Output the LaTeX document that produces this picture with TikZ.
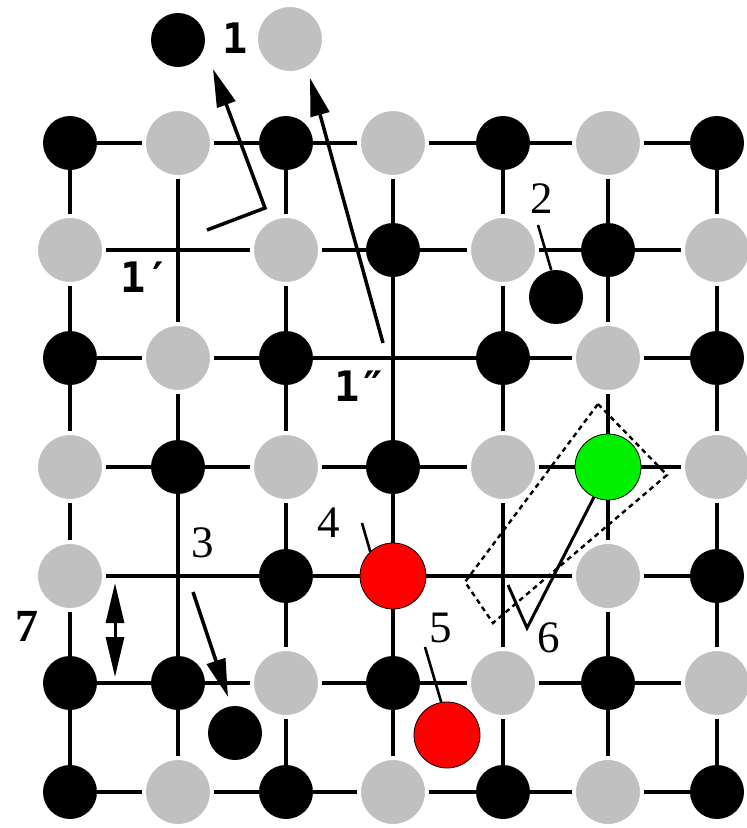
\documentclass[tikz,border=0pt]{standalone}
\usepackage{fontspec}
\newfontfamily\monob{DejaVu Sans Mono}
\newfontfamily\serifb{Liberation Serif}
\usetikzlibrary{arrows.meta,backgrounds}
\definecolor{atomgrey}{RGB}{192,192,192}
\definecolor{atomgreen}{RGB}{0,240,0}
\begin{document}
\begin{tikzpicture}[x=1pt,y=-1pt,
 blk/.style={circle,fill=black,inner sep=0pt,minimum size=54pt},
 gry/.style={circle,fill=atomgrey,draw=white,line width=4pt,inner sep=0pt,minimum size=68pt},
 vac/.style={shape=coordinate},
 redatom/.style={circle,fill=red,draw=black,line width=0.8pt,inner sep=0pt,minimum size=66pt},
 grnatom/.style={circle,fill=atomgreen,draw=black,line width=0.8pt,inner sep=0pt,minimum size=66pt},
 gridline/.style={line width=3.8pt},
 bigarrow/.style={line width=3.5pt,-{Triangle[length=38pt,width=19pt]}},
 pointer/.style={line width=2.6pt},
 boxline/.style={line width=2.4pt,dash pattern=on 5pt off 4pt},
 monolab/.style={font=\monob\bfseries\fontsize{42}{42}\selectfont,inner sep=0pt},
 seriflab/.style={font=\serifb\fontsize{45}{45}\selectfont,inner sep=0pt},
 boldlab/.style={font=\serifb\bfseries\fontsize{46}{46}\selectfont,inner sep=0pt}]
\useasboundingbox (0,0) rectangle (747,828);

% lattice
\foreach \r/\y/\row in {
  1/143/{blk,gry,blk,gry,blk,gry,blk},
  2/250/{gry,vac,gry,blk,gry,blk,gry},
  3/358/{blk,gry,blk,vac,blk,gry,blk},
  4/467/{gry,blk,gry,blk,gry,grnatom,gry},
  5/576/{gry,vac,blk,redatom,vac,gry,blk},
  6/683/{blk,blk,gry,blk,gry,blk,gry},
  7/792/{blk,gry,blk,gry,blk,gry,blk}}{
  \foreach \s [count=\c] in \row {
    \pgfmathsetmacro\xx{{70,178,286,393,503,608,717}[\c-1]}
    \node[\s] (n-\r-\c) at (\xx,\y) {};
  }
}

\begin{pgfonlayer}{background}
  \fill[white] (0,0) rectangle (747,828);
  \foreach \r in {1,...,7} \draw[gridline] (n-\r-1.center) -- (n-\r-7.center);
  \foreach \c in {1,...,7} \draw[gridline] (n-1-\c.center) -- (n-7-\c.center);
\end{pgfonlayer}

% extra atoms
\node[blk] (top1) at (178,40) {};
\node[gry] (top2) at (290,39) {};
\node[blk] (b2) at (556,297) {};
\node[blk] (b3) at (235,733) {};
\node[redatom] (r5) at (447,735) {};

% labels
\node[monolab] (l1) at (235,38) {1};
\node[monolab] (l1p) at (146,277) {1′};
\node[monolab] (l1pp) at (360,386) {1″};
\node[seriflab] (l2) at (542,199) {2};
\node[seriflab] (l3) at (203,543) {3};
\node[seriflab] (l4) at (329,523) {4};
\node[seriflab] (l5) at (441,628) {5};
\node[seriflab] (l6) at (549,638) {6};
\node[boldlab] (l7) at (27,626) {7};

% arrows
\coordinate (a1s) at (207,230);
\coordinate (a1k) at (265,208);
\coordinate (a1t) at (213,69);
\draw[bigarrow] (a1s) -- (a1k) -- (a1t);
\coordinate (a2s) at (383,343);
\coordinate (a2t) at (310,78);
\draw[bigarrow] (a2s) -- (a2t);
\coordinate (a3s) at (193,592);
\coordinate (a3t) at (228,697);
\draw[bigarrow] (a3s) -- (a3t);
\coordinate (a7t) at (115,583);
\coordinate (a7b) at (115,677);
\draw[line width=3pt,{Triangle[length=40pt,width=18pt]}-{Triangle[length=40pt,width=18pt]}] (a7t) -- (a7b);

% pointers
\coordinate (p2) at (538,225);
\draw[pointer] (p2) -- (b2.100);
\coordinate (p4) at (362,523);
\draw[pointer] (p4) -- (n-5-4.133);
\coordinate (p5) at (425,647);
\draw[pointer] (p5) -- (r5.100);
\coordinate (p6a) at (508,585);
\coordinate (p6b) at (527,628);
\draw[pointer,line width=3pt] (p6a) -- (p6b) -- (n-4-6.245);

% dashed box
\coordinate (d1) at (598,404);
\coordinate (d2) at (667,475);
\coordinate (d3) at (493,623);
\coordinate (d4) at (465,582);
\draw[boxline] (d1) -- (d2) -- (d3) -- (d4) -- cycle;
\end{tikzpicture}
\end{document}
